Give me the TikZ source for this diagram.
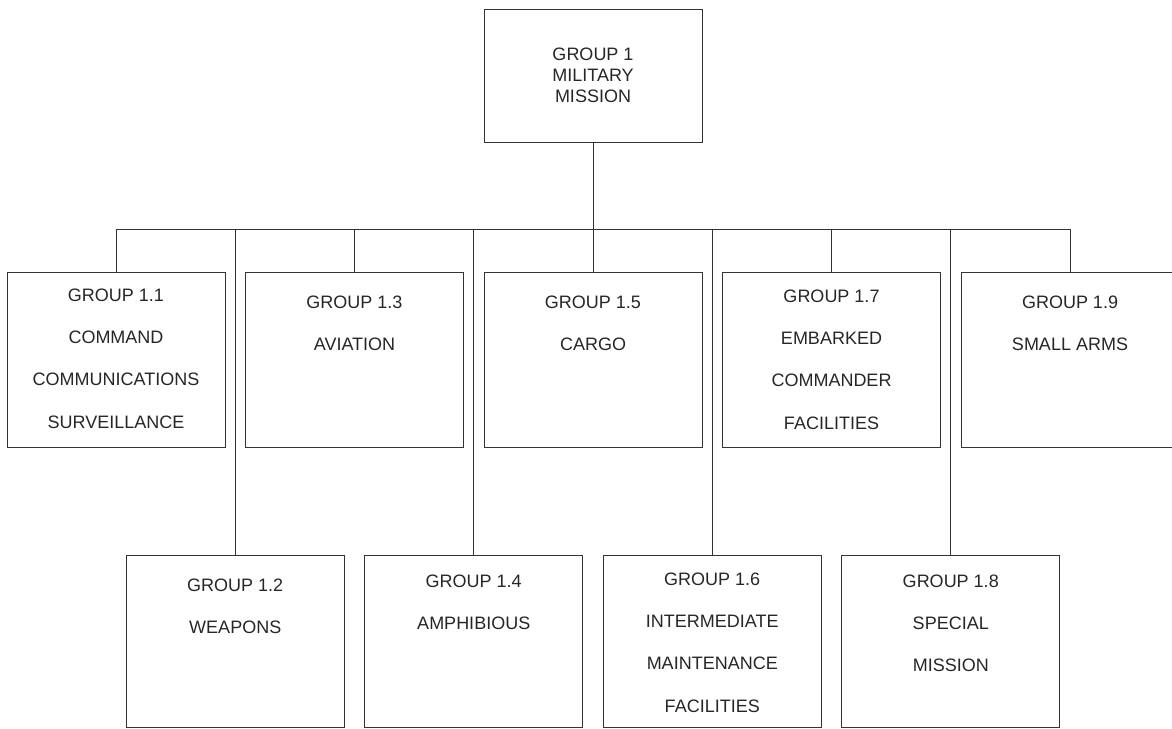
\documentclass[tikz,border=0pt]{standalone}
\usepackage{fontspec}
\setmainfont{Liberation Sans}
\begin{document}
\begin{tikzpicture}[x=1pt,y=-1pt,
  box/.style={draw=black!80, line width=0.8pt, rectangle, inner sep=0pt, minimum width=218pt},
  upbox/.style={box, minimum height=175pt},
  lowbox/.style={box, minimum height=172pt},
  txt/.style={anchor=north, inner sep=0pt, align=center, text=black!85,
    font=\fontsize{18}{42.3}\selectfont},
  toptxt/.style={txt, font=\fontsize{18}{21}\selectfont},
  conn/.style={draw=black!80, line width=0.8pt}]
\useasboundingbox (0,0) rectangle (1172,728);
\clip (0,0) rectangle (1172,728);
% boxes
\node[box, minimum width=218pt, minimum height=133pt] (top) at (593,75.5) {};
\node[upbox] (g11) at (116,359.5) {};
\node[upbox] (g13) at (354.5,359.5) {};
\node[upbox] (g15) at (593,359.5) {};
\node[upbox] (g17) at (831.5,359.5) {};
\node[upbox] (g19) at (1070,359.5) {};
\node[lowbox] (g12) at (235.25,641) {};
\node[lowbox] (g14) at (473.75,641) {};
\node[lowbox] (g16) at (712.25,641) {};
\node[lowbox] (g18) at (950.75,641) {};
% texts
\node[toptxt] (ttop) at (593,47.5) {GROUP 1\\MILITARY\\MISSION};
\node[txt] (t11) at (116,288.5) {GROUP 1.1\\COMMAND\\COMMUNICATIONS\\SURVEILLANCE};
\node[txt] (t13) at (354.5,295.5) {GROUP 1.3\\AVIATION};
\node[txt] (t15) at (593,295.5) {GROUP 1.5\\CARGO};
\node[txt] (t17) at (831.5,289.5) {GROUP 1.7\\EMBARKED\\COMMANDER\\FACILITIES};
\node[txt] (t19) at (1070,295.5) {GROUP 1.9\\SMALL ARMS};
\node[txt] (t12) at (235.25,578.5) {GROUP 1.2\\WEAPONS};
\node[txt] (t14) at (473.75,574.5) {GROUP 1.4\\AMPHIBIOUS};
\node[txt] (t16) at (712.25,572.5) {GROUP 1.6\\INTERMEDIATE\\MAINTENANCE\\FACILITIES};
\node[txt] (t18) at (950.75,574.5) {GROUP 1.8\\SPECIAL\\MISSION};
% connectors
\coordinate (bus) at (593,229);
\draw[conn] (top.south) -- (bus);
\draw[conn] (g11.north |- bus) -- (g19.north |- bus);
\foreach \n in {g11,g12,g13,g14,g15,g16,g17,g18,g19}
  \draw[conn] (\n.north |- bus) -- (\n.north);
\end{tikzpicture}
\end{document}
